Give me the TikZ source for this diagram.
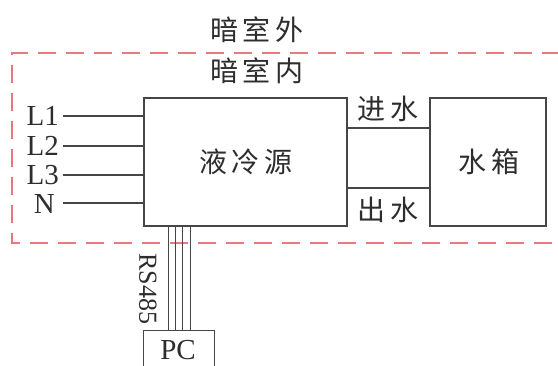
\documentclass[tikz,border=0pt]{standalone}
\usepackage{fontspec}
\setmainfont{Liberation Serif}
\newfontfamily\cjk{Noto Sans CJK SC}
\definecolor{lineg}{RGB}{70,70,70}
\definecolor{txtg}{RGB}{45,45,45}
\definecolor{dashred}{RGB}{232,120,130}
\begin{document}
\begin{tikzpicture}[x=1pt,y=-1pt,
  box/.style={draw=lineg,line width=1.2pt},
  wire/.style={draw=lineg,line width=1.1pt},
  zone/.style={draw=dashred,line width=1.4pt,dash pattern=on 18pt off 10pt},
  cn/.style={text=txtg,font=\cjk\fontsize{28}{30}\selectfont,inner sep=0pt},
  ln/.style={text=txtg,font=\fontsize{29}{30}\selectfont,inner sep=0pt}]
\useasboundingbox (0,0) rectangle (558,365);
% zone
\coordinate (zTR) at (560,53);
\coordinate (zTL) at (12,53);
\coordinate (zBL) at (12,243);
\coordinate (zBR) at (560,243);
\draw[zone] (zTR) -- (zTL) -- (zBL) -- (zBR);
\node[cn] (out) at (257,30) {暗\,室\,外};
\node[cn] (in) at (257,71) {暗\,室\,内};
% main box
\node[box,minimum width=203pt,minimum height=128pt,inner sep=0pt] (src) at (245.5,162) {};
\node[cn] (srct) at (246,162) {液\,冷\,源};
% tank
\node[box,minimum width=116pt,minimum height=128pt,inner sep=0pt] (tank) at (488,162) {};
\node[cn] (tankt) at (489,162) {水\,箱};
% pipes
\draw[wire] (src.east |- 0,128) -- (tank.west |- 0,128);
\draw[wire] (src.east |- 0,188) -- (tank.west |- 0,188);
\node[cn] (inw) at (388,109) {进\,水};
\node[cn] (outw) at (388,210) {出\,水};
% power lines
\node[ln,anchor=east] (L1) at (59,116) {L1};
\node[ln,anchor=east] (L2) at (59,146) {L2};
\node[ln,anchor=east] (L3) at (59,175) {L3};
\node[ln,anchor=east] (N) at (55,204) {N};
\foreach \n/\y in {L1/116,L2/146,L3/175,N/203}{
  \coordinate (\n s) at (63,\y);
  \draw[wire] (\n s) -- (src.west |- \n s);
}
% PC
\node[box,minimum width=71pt,minimum height=50pt,inner sep=0pt,anchor=north west] (pc) at (143,330) {};
\node[ln] (pct) at (178,350) {PC};
\foreach \x in {168,175,182,190}{
  \draw[wire,line width=0.9pt] (src.south -| \x,0) -- (pc.north -| \x,0);
}
\node[ln,rotate=-90,font=\fontsize{26}{28}\selectfont] (rs) at (148,289) {RS485};
\end{tikzpicture}
\end{document}
